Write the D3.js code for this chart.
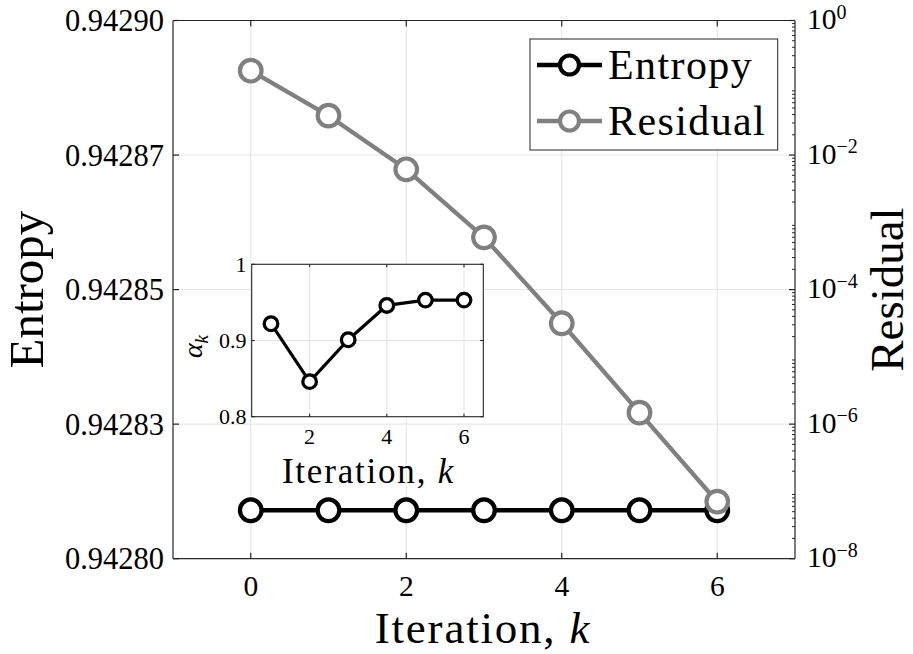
<!DOCTYPE html>
<html>
<head>
<meta charset="utf-8">
<script src="https://cdn.jsdelivr.net/npm/d3@7"></script>
<style>
  html, body { margin: 0; padding: 0; background: #fff; }
  svg { display: block; }
  text { font-family: "Liberation Serif", "DejaVu Serif", "Times New Roman", serif; fill: #000; }
</style>
</head>
<body>
<svg id="chart" width="913" height="654"></svg>
<script>
// ---------- data ----------
const iterations = [0, 1, 2, 3, 4, 5, 6];
const entropy = [0.942809, 0.942809, 0.942809, 0.942809, 0.942809, 0.942809, 0.942809];
const residual = [0.1795, 0.0385, 0.00614, 5.98e-4, 3.16e-5, 1.48e-6, 7.03e-8];

const insetIterations = [1, 2, 3, 4, 5, 6];
const alphaValues = [0.922, 0.846, 0.901, 0.946, 0.953, 0.953];

const xTicks = [0, 2, 4, 6];
const leftTicks = [0.9428, 0.942825, 0.94285, 0.942875, 0.9429];
const leftTickLabels = ["0.94280", "0.94283", "0.94285", "0.94287", "0.94290"];
const rightTickExps = [-8, -6, -4, -2, 0];
const insetXTicks = [2, 4, 6];
const insetYTicks = [0.8, 0.9, 1];
const insetYTickLabels = ["0.8", "0.9", "1"];
const seriesNames = ["Entropy", "Residual"];

// ---------- layout ----------
const svg = d3.select("#chart");
const M = { left: 173, right: 795, top: 20.5, bottom: 558.7 };
const I = { left: 251.7, right: 483.3, top: 264.3, bottom: 416.7 };
const axisColor = "#262626";
const gridColor = "#e3e3e3";
const gray = "#808080";
const tickFS = 30.5;

const x = d3.scaleLinear().domain([-1, 7]).range([M.left, M.right]);
const yL = d3.scaleLinear().domain([0.9428, 0.9429]).range([M.bottom, M.top]);
const yR = d3.scaleLog().domain([1e-8, 1]).range([M.bottom, M.top]);

// ---------- main grid ----------
const grid = svg.append("g");
xTicks.forEach(t => grid.append("line")
  .attr("x1", x(t)).attr("x2", x(t)).attr("y1", M.top).attr("y2", M.bottom)
  .attr("stroke", gridColor).attr("stroke-width", 1));
leftTicks.slice(1, -1).forEach(t => grid.append("line")
  .attr("x1", M.left).attr("x2", M.right).attr("y1", yL(t)).attr("y2", yL(t))
  .attr("stroke", gridColor).attr("stroke-width", 1));

// ---------- main series ----------
const line = (ys, yScale) => d3.line().x((d, i) => x(iterations[i])).y(d => yScale(d))(ys);

svg.append("path").attr("d", line(entropy, yL))
  .attr("fill", "none").attr("stroke", "#000").attr("stroke-width", 4.5).attr("stroke-linejoin", "round");
svg.append("g").selectAll("circle").data(entropy).join("circle")
  .attr("cx", (d, i) => x(iterations[i])).attr("cy", d => yL(d)).attr("r", 10.8)
  .attr("fill", "#fff").attr("stroke", "#000").attr("stroke-width", 4.3);

svg.append("path").attr("d", line(residual, yR))
  .attr("fill", "none").attr("stroke", gray).attr("stroke-width", 4.3).attr("stroke-linejoin", "round");
svg.append("g").selectAll("circle").data(residual).join("circle")
  .attr("cx", (d, i) => x(iterations[i])).attr("cy", d => yR(d)).attr("r", 10.8)
  .attr("fill", "#fff").attr("stroke", gray).attr("stroke-width", 4.2);

// ---------- main axes frame & ticks ----------
const axes = svg.append("g").attr("stroke", axisColor).attr("stroke-width", 1.2);
axes.append("line").attr("x1", M.left).attr("x2", M.right).attr("y1", M.top).attr("y2", M.top);
axes.append("line").attr("x1", M.left).attr("x2", M.right).attr("y1", M.bottom).attr("y2", M.bottom);
axes.append("line").attr("x1", M.left).attr("x2", M.left).attr("y1", M.top).attr("y2", M.bottom);
axes.append("line").attr("x1", M.right).attr("x2", M.right).attr("y1", M.top).attr("y2", M.bottom);

xTicks.forEach(t => {
  axes.append("line").attr("x1", x(t)).attr("x2", x(t)).attr("y1", M.bottom).attr("y2", M.bottom - 6);
  axes.append("line").attr("x1", x(t)).attr("x2", x(t)).attr("y1", M.top).attr("y2", M.top + 6);
});
leftTicks.forEach(t => axes.append("line")
  .attr("x1", M.left).attr("x2", M.left + 6).attr("y1", yL(t)).attr("y2", yL(t)));

// right log axis: major + minor ticks
rightTickExps.forEach(e => axes.append("line")
  .attr("x1", M.right).attr("x2", M.right - 6).attr("y1", yR(Math.pow(10, e))).attr("y2", yR(Math.pow(10, e))));
for (let e = -8; e < 0; e++) {
  for (let m = 2; m <= 9; m++) {
    const v = m * Math.pow(10, e);
    axes.append("line").attr("x1", M.right).attr("x2", M.right - 3)
      .attr("y1", yR(v)).attr("y2", yR(v)).attr("stroke-width", 1);
  }
}

// tick labels
xTicks.forEach(t => svg.append("text").attr("x", x(t)).attr("y", 596)
  .attr("text-anchor", "middle").attr("font-size", 29.5).text(t));
leftTicks.forEach((t, i) => svg.append("text").attr("x", 164).attr("y", yL(t))
  .attr("dy", "0.35em").attr("text-anchor", "end").attr("font-size", tickFS).text(leftTickLabels[i]));
rightTickExps.forEach(e => {
  const tx = svg.append("text").attr("x", 807).attr("y", yR(Math.pow(10, e)) + 8.5).attr("font-size", 29.5);
  tx.append("tspan").text("10");
  tx.append("tspan").attr("font-size", 20).attr("dy", -10.5).text(e === 0 ? "0" : "\u2212" + Math.abs(e));
});

// axis labels
svg.append("text").attr("x", (M.left + M.right) / 2 - 1).attr("y", 643)
  .attr("text-anchor", "middle").attr("font-size", 45).attr("letter-spacing", 1.8)
  .call(t => { t.append("tspan").text("Iteration, "); t.append("tspan").attr("font-style", "italic").text("k"); });
svg.append("text").attr("transform", `translate(43,${(M.top + M.bottom) / 2}) rotate(-90)`)
  .attr("text-anchor", "middle").attr("font-size", 49).text("Entropy");
svg.append("text").attr("transform", `translate(903,${(M.top + M.bottom) / 2}) rotate(-90)`)
  .attr("text-anchor", "middle").attr("font-size", 47).text("Residual");

// ---------- legend ----------
const L = { x: 530, y: 39, w: 247.7, h: 111 };
const lg = svg.append("g");
lg.append("rect").attr("x", L.x).attr("y", L.y).attr("width", L.w).attr("height", L.h)
  .attr("fill", "#fff").attr("stroke", axisColor).attr("stroke-width", 1);
const legendColors = ["#000", gray];
seriesNames.forEach((name, i) => {
  const cy = L.y + 26 + i * 56;
  lg.append("line").attr("x1", L.x + 7).attr("x2", L.x + 72).attr("y1", cy).attr("y2", cy)
    .attr("stroke", legendColors[i]).attr("stroke-width", 4.5);
  lg.append("circle").attr("cx", L.x + 39.5).attr("cy", cy).attr("r", 9.5)
    .attr("fill", "#fff").attr("stroke", legendColors[i]).attr("stroke-width", 4.2);
  lg.append("text").attr("x", L.x + 78).attr("y", cy + 13.5).attr("font-size", 42)
    .attr("letter-spacing", 1.4).text(name);
});

// ---------- inset ----------
const xi = d3.scaleLinear().domain([0.5, 6.5]).range([I.left, I.right]);
const yi = d3.scaleLinear().domain([0.8, 1]).range([I.bottom, I.top]);
const ins = svg.append("g");
ins.append("rect").attr("x", I.left).attr("y", I.top).attr("width", I.right - I.left).attr("height", I.bottom - I.top)
  .attr("fill", "#fff");
insetXTicks.forEach(t => ins.append("line").attr("x1", xi(t)).attr("x2", xi(t)).attr("y1", I.top).attr("y2", I.bottom)
  .attr("stroke", gridColor));
insetYTicks.slice(1, -1).forEach(t => ins.append("line").attr("x1", I.left).attr("x2", I.right).attr("y1", yi(t)).attr("y2", yi(t))
  .attr("stroke", gridColor));
ins.append("path")
  .attr("d", d3.line().x((d, i) => xi(insetIterations[i])).y(d => yi(d))(alphaValues))
  .attr("fill", "none").attr("stroke", "#000").attr("stroke-width", 3.2).attr("stroke-linejoin", "round");
ins.append("g").selectAll("circle").data(alphaValues).join("circle")
  .attr("cx", (d, i) => xi(insetIterations[i])).attr("cy", d => yi(d)).attr("r", 6.8)
  .attr("fill", "#fff").attr("stroke", "#000").attr("stroke-width", 3.3);
const ia = ins.append("g").attr("stroke", axisColor).attr("stroke-width", 1.1);
ia.append("rect").attr("x", I.left).attr("y", I.top).attr("width", I.right - I.left).attr("height", I.bottom - I.top)
  .attr("fill", "none");
insetXTicks.forEach(t => {
  ia.append("line").attr("x1", xi(t)).attr("x2", xi(t)).attr("y1", I.bottom).attr("y2", I.bottom - 3);
  ia.append("line").attr("x1", xi(t)).attr("x2", xi(t)).attr("y1", I.top).attr("y2", I.top + 3);
});
insetYTicks.forEach(t => {
  ia.append("line").attr("x1", I.left).attr("x2", I.left + 3).attr("y1", yi(t)).attr("y2", yi(t));
  ia.append("line").attr("x1", I.right).attr("x2", I.right - 3).attr("y1", yi(t)).attr("y2", yi(t));
});
const insetTickFS = 22;
insetXTicks.forEach(t => ins.append("text").attr("x", xi(t)).attr("y", 444)
  .attr("text-anchor", "middle").attr("font-size", insetTickFS).text(t));
insetYTicks.forEach((t, i) => ins.append("text").attr("x", 246.5).attr("y", yi(t)).attr("dy", "0.35em")
  .attr("text-anchor", "end").attr("font-size", insetTickFS).text(insetYTickLabels[i]));
ins.append("text").attr("x", (I.left + I.right) / 2 + 1).attr("y", 483)
  .attr("text-anchor", "middle").attr("font-size", 35).attr("letter-spacing", 1.8)
  .call(t => { t.append("tspan").text("Iteration, "); t.append("tspan").attr("font-style", "italic").text("k"); });
ins.append("text").attr("transform", `translate(202,${(I.top + I.bottom) / 2 + 6}) rotate(-90)`)
  .attr("text-anchor", "middle").attr("font-size", 28)
  .call(t => {
    t.append("tspan").attr("font-style", "italic").text("\u03B1");
    t.append("tspan").attr("font-style", "italic").attr("font-size", 19).attr("dy", 6).text("k");
  });
</script>
</body>
</html>
